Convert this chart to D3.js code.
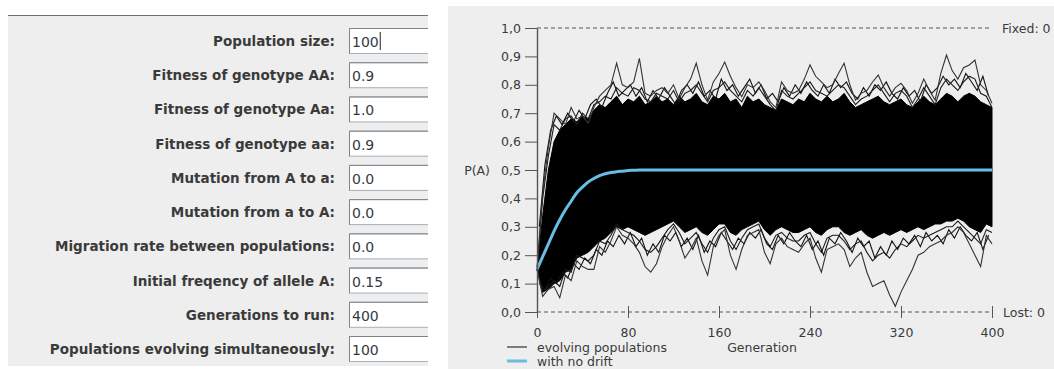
<!DOCTYPE html>
<html>
<head>
<meta charset="utf-8">
<script src="https://cdn.jsdelivr.net/npm/d3@7"></script>
<style>
  html, body { margin: 0; padding: 0; background: #ffffff; }
  svg { display: block; }
</style>
</head>
<body>
<div id="chart"></div>
<script>
// form fields on the left
const fieldLabels = [
    'Population size:',
    'Fitness of genotype AA:',
    'Fitness of genotype Aa:',
    'Fitness of genotype aa:',
    'Mutation from A to a:',
    'Mutation from a to A:',
    'Migration rate between populations:',
    'Initial freqency of allele A:',
    'Generations to run:',
    'Populations evolving simultaneously:',
];
const fieldValues = ['100', '0.9', '1.0', '0.9', '0.0', '0.0', '0.0', '0.15', '400', '100'];

// chart axes
const yTicks = [0, 0.1, 0.2, 0.3, 0.4, 0.5, 0.6, 0.7, 0.8, 0.9, 1.0];
const yTickLabels = ['0,0', '0,1', '0,2', '0,3', '0,4', '0,5', '0,6', '0,7', '0,8', '0,9', '1,0'];
const xTicks = [0, 80, 160, 240, 320, 400];
const xTickLabels = ['0', '80', '160', '240', '320', '400'];

// sampled generations (every 5th) for the 100 drifting populations
const generations = [
    0, 5, 10, 15, 20, 25, 30, 35, 40, 45, 50, 55, 60, 65, 70, 75, 80, 85, 90, 95,
    100, 105, 110, 115, 120, 125, 130, 135, 140, 145, 150, 155, 160, 165, 170, 175, 180, 185, 190, 195,
    200, 205, 210, 215, 220, 225, 230, 235, 240, 245, 250, 255, 260, 265, 270, 275, 280, 285, 290, 295,
    300, 305, 310, 315, 320, 325, 330, 335, 340, 345, 350, 355, 360, 365, 370, 375, 380, 385, 390, 395, 400,
];
// the same, shifted by two generations, for a couple of extra strands
const generationsShifted = [
    2, 7, 12, 17, 22, 27, 32, 37, 42, 47, 52, 57, 62, 67, 72, 77, 82, 87, 92, 97,
    102, 107, 112, 117, 122, 127, 132, 137, 142, 147, 152, 157, 162, 167, 172, 177, 182, 187, 192, 197,
    202, 207, 212, 217, 222, 227, 232, 237, 242, 247, 252, 257, 262, 267, 272, 277, 282, 287, 292, 297,
    302, 307, 312, 317, 322, 327, 332, 337, 342, 347, 352, 357, 362, 367, 372, 377, 382, 387, 392, 397,
];
// highest population at each generation
const outerHigh = [
    0.15, 0.42, 0.58, 0.70, 0.68, 0.66, 0.72, 0.68, 0.69, 0.665, 0.72, 0.76, 0.78, 0.80, 0.876, 0.80, 0.79, 0.81, 0.893, 0.77,
    0.76, 0.78, 0.79, 0.77, 0.80, 0.75, 0.79, 0.82, 0.876, 0.80, 0.746, 0.81, 0.84, 0.88, 0.83, 0.79, 0.758, 0.80, 0.79, 0.81,
    0.78, 0.74, 0.72, 0.81, 0.78, 0.77, 0.78, 0.82, 0.87, 0.83, 0.81, 0.79, 0.80, 0.84, 0.876, 0.80, 0.746, 0.77, 0.78, 0.81,
    0.834, 0.79, 0.76, 0.79, 0.805, 0.78, 0.735, 0.77, 0.82, 0.78, 0.746, 0.84, 0.905, 0.85, 0.82, 0.86, 0.87, 0.887, 0.80, 0.78, 0.735,
];
// strands just above the dense band
const midHigh = [
    0.15, 0.40, 0.55, 0.66, 0.64, 0.68, 0.69, 0.66, 0.70, 0.68, 0.73, 0.74, 0.76, 0.75, 0.79, 0.77, 0.76, 0.79, 0.78, 0.75,
    0.74, 0.77, 0.76, 0.75, 0.78, 0.74, 0.77, 0.78, 0.80, 0.77, 0.74, 0.78, 0.79, 0.81, 0.78, 0.76, 0.74, 0.78, 0.76, 0.79,
    0.76, 0.73, 0.71, 0.78, 0.76, 0.75, 0.77, 0.79, 0.81, 0.78, 0.77, 0.76, 0.78, 0.80, 0.79, 0.76, 0.73, 0.75, 0.76, 0.78,
    0.80, 0.77, 0.74, 0.77, 0.78, 0.76, 0.72, 0.75, 0.79, 0.76, 0.73, 0.79, 0.82, 0.80, 0.78, 0.81, 0.83, 0.82, 0.77, 0.76, 0.72,
];
const upperShifted = [
    0.30, 0.52, 0.64, 0.69, 0.66, 0.70, 0.67, 0.71, 0.68, 0.73, 0.75, 0.72, 0.77, 0.81, 0.76, 0.78, 0.80, 0.76, 0.79, 0.74,
    0.78, 0.75, 0.79, 0.76, 0.73, 0.78, 0.80, 0.77, 0.81, 0.76, 0.78, 0.75, 0.82, 0.78, 0.80, 0.76, 0.79, 0.82, 0.77, 0.80,
    0.75, 0.77, 0.74, 0.79, 0.76, 0.80, 0.77, 0.81, 0.78, 0.76, 0.80, 0.77, 0.82, 0.79, 0.81, 0.77, 0.75, 0.79, 0.76, 0.80,
    0.78, 0.81, 0.77, 0.75, 0.79, 0.76, 0.78, 0.74, 0.80, 0.77, 0.79, 0.83, 0.80, 0.82, 0.79, 0.84, 0.81, 0.78, 0.83, 0.76,
];
// top and bottom of the solid black band
const denseHigh = [
    0.15, 0.34, 0.50, 0.60, 0.64, 0.66, 0.68, 0.67, 0.69, 0.68, 0.71, 0.73, 0.72, 0.74, 0.76, 0.73, 0.75, 0.74, 0.76, 0.73,
    0.74, 0.76, 0.74, 0.75, 0.73, 0.76, 0.74, 0.75, 0.77, 0.74, 0.73, 0.76, 0.75, 0.77, 0.74, 0.75, 0.72, 0.76, 0.74, 0.75,
    0.73, 0.72, 0.71, 0.75, 0.74, 0.73, 0.75, 0.74, 0.77, 0.75, 0.74, 0.76, 0.74, 0.75, 0.77, 0.74, 0.72, 0.73, 0.74, 0.75,
    0.76, 0.74, 0.73, 0.74, 0.75, 0.73, 0.72, 0.74, 0.76, 0.74, 0.73, 0.75, 0.77, 0.76, 0.74, 0.76, 0.77, 0.76, 0.74, 0.73, 0.72,
];
const denseLow = [
    0.15, 0.07, 0.08, 0.10, 0.11, 0.14, 0.15, 0.19, 0.20, 0.21, 0.23, 0.25, 0.26, 0.28, 0.30, 0.29, 0.30, 0.29, 0.28, 0.27,
    0.28, 0.29, 0.30, 0.31, 0.32, 0.30, 0.28, 0.29, 0.30, 0.28, 0.27, 0.29, 0.31, 0.31, 0.28, 0.27, 0.29, 0.30, 0.31, 0.32,
    0.29, 0.27, 0.29, 0.30, 0.29, 0.28, 0.28, 0.29, 0.30, 0.28, 0.27, 0.29, 0.30, 0.30, 0.28, 0.27, 0.28, 0.29, 0.27, 0.26,
    0.27, 0.28, 0.27, 0.28, 0.29, 0.28, 0.29, 0.30, 0.29, 0.30, 0.31, 0.31, 0.32, 0.32, 0.33, 0.32, 0.30, 0.29, 0.28, 0.31, 0.30,
];
// strands just below the dense band
const midLow = [
    0.15, 0.07, 0.09, 0.11, 0.09, 0.15, 0.14, 0.20, 0.19, 0.18, 0.20, 0.25, 0.24, 0.27, 0.31, 0.29, 0.28, 0.27, 0.25, 0.22,
    0.21, 0.23, 0.26, 0.29, 0.31, 0.28, 0.24, 0.26, 0.28, 0.24, 0.21, 0.26, 0.29, 0.30, 0.25, 0.22, 0.26, 0.29, 0.30, 0.31,
    0.26, 0.23, 0.27, 0.28, 0.26, 0.25, 0.25, 0.27, 0.28, 0.24, 0.21, 0.26, 0.27, 0.27, 0.25, 0.22, 0.24, 0.25, 0.21, 0.18,
    0.20, 0.21, 0.19, 0.22, 0.24, 0.23, 0.25, 0.27, 0.26, 0.27, 0.28, 0.29, 0.30, 0.30, 0.32, 0.30, 0.28, 0.26, 0.24, 0.29, 0.28,
];
const lowerShifted = [
    0.10, 0.08, 0.12, 0.10, 0.14, 0.12, 0.17, 0.15, 0.19, 0.17, 0.22, 0.20, 0.25, 0.23, 0.27, 0.24, 0.28, 0.23, 0.26, 0.20,
    0.24, 0.21, 0.27, 0.25, 0.28, 0.23, 0.26, 0.22, 0.27, 0.21, 0.25, 0.23, 0.28, 0.25, 0.22, 0.26, 0.24, 0.28, 0.26, 0.29,
    0.24, 0.22, 0.27, 0.24, 0.28, 0.25, 0.23, 0.27, 0.22, 0.25, 0.20, 0.26, 0.24, 0.28, 0.25, 0.21, 0.26, 0.23, 0.25, 0.19,
    0.23, 0.20, 0.25, 0.22, 0.26, 0.24, 0.27, 0.23, 0.28, 0.25, 0.27, 0.24, 0.29, 0.26, 0.30, 0.27, 0.25, 0.28, 0.22, 0.27,
];
// lowest population at each generation
const outerLow = [
    0.15, 0.055, 0.08, 0.09, 0.05, 0.13, 0.11, 0.18, 0.16, 0.15, 0.15, 0.23, 0.21, 0.25, 0.30, 0.27, 0.26, 0.24, 0.21, 0.16,
    0.14, 0.17, 0.23, 0.27, 0.30, 0.25, 0.19, 0.22, 0.26, 0.18, 0.13, 0.23, 0.27, 0.29, 0.20, 0.15, 0.22, 0.27, 0.28, 0.29,
    0.21, 0.17, 0.24, 0.26, 0.23, 0.22, 0.21, 0.24, 0.26, 0.19, 0.14, 0.22, 0.23, 0.24, 0.22, 0.16, 0.19, 0.21, 0.14, 0.09,
    0.10, 0.11, 0.06, 0.02, 0.07, 0.11, 0.15, 0.20, 0.21, 0.23, 0.24, 0.25, 0.27, 0.28, 0.30, 0.28, 0.24, 0.20, 0.16, 0.27, 0.24,
];

// deterministic curve without drift
const noDriftGen = [0, 5, 10, 15, 20, 25, 30, 35, 40, 45, 50, 55, 60, 65, 70, 75, 80, 85, 90, 100, 400];
const noDriftP = [0.15, 0.195, 0.24, 0.285, 0.325, 0.36, 0.39, 0.42, 0.44, 0.458, 0.47, 0.48, 0.487, 0.491, 0.494, 0.496, 0.498, 0.499, 0.5, 0.5, 0.5];

const fixedCount = 0;
const lostCount = 0;

const W = 1054;
const H = 369;
const uiFont = '"DejaVu Sans", Verdana, sans-serif';
const textColour = '#3a3a3a';
const blue = '#67bde2';

const svg = d3.select('#chart')
    .append('svg')
    .attr('width', W)
    .attr('height', H)
    .style('font-family', uiFont);

// ---------- left form panel ----------
svg.append('rect')
    .attr('x', 8).attr('y', 15).attr('width', 420).attr('height', 351)
    .attr('fill', '#eeeeee');
svg.append('line')
    .attr('x1', 8).attr('x2', 428).attr('y1', 15.5).attr('y2', 15.5)
    .attr('stroke', '#6f6f6f').attr('stroke-width', 1.2);

const rowY = d3.scaleLinear().domain([0, fieldLabels.length - 1]).range([41, 349]);

const rows = svg.append('g')
    .selectAll('g')
    .data(fieldLabels)
    .join('g')
    .attr('transform', (d, i) => 'translate(0,' + rowY(i) + ')');

rows.append('text')
    .attr('x', 335)
    .attr('y', 5)
    .attr('text-anchor', 'end')
    .attr('font-weight', 'bold')
    .attr('font-size', 13.5)
    .attr('fill', textColour)
    .text((d) => d);

rows.append('rect')
    .attr('x', 349.5).attr('y', -12.5).attr('width', 90).attr('height', 25)
    .attr('fill', '#ffffff')
    .attr('stroke', '#a8b0b8');
rows.append('path')
    .attr('d', 'M349.5,12.5 V-12.5 H440')
    .attr('fill', 'none')
    .attr('stroke', '#7c858e');

const values = rows.append('text')
    .attr('x', 352)
    .attr('y', 6)
    .attr('font-size', 14)
    .attr('fill', '#333a44')
    .text((d, i) => fieldValues[i]);

// caret right after the first value
const caretX = 352 + values.node().getComputedTextLength() + 1.5;
svg.append('line')
    .attr('x1', caretX).attr('x2', caretX).attr('y1', rowY(0) - 9).attr('y2', rowY(0) + 9)
    .attr('stroke', '#222');

// white gap between the two panels
svg.append('rect')
    .attr('x', 428).attr('y', 0).attr('width', 20).attr('height', H)
    .attr('fill', '#ffffff');

// ---------- right chart panel ----------
svg.append('rect')
    .attr('x', 448).attr('y', 6).attr('width', W - 448).attr('height', H - 6)
    .attr('fill', '#eeeeee');

const x = d3.scaleLinear().domain([0, 400]).range([537, 992]);
const y = d3.scaleLinear().domain([0, 1]).range([312, 28]);

const plot = svg.append('g');

// dashed bounds at 1 and 0
plot.selectAll('line.bound')
    .data([1, 0])
    .join('line')
    .attr('class', 'bound')
    .attr('x1', x(0)).attr('x2', x(400))
    .attr('y1', (d) => y(d)).attr('y2', (d) => y(d))
    .attr('stroke', '#555')
    .attr('stroke-dasharray', '4,3');

// solid band of overlapping populations
plot.append('path')
    .datum(generations)
    .attr('fill', '#000')
    .attr('stroke', '#000')
    .attr('stroke-width', 1)
    .attr('d', d3.area()
        .x((d) => x(d))
        .y0((d, i) => y(denseLow[i]))
        .y1((d, i) => y(denseHigh[i])));

// individual strands around the band
const strand = d3.line()
    .x((d) => x(d[0]))
    .y((d) => y(d[1]));

const strands = [
    { gens: generationsShifted, values: upperShifted, colour: '#111' },
    { gens: generationsShifted, values: lowerShifted, colour: '#111' },
    { gens: generations, values: midHigh, colour: '#1a1a1a' },
    { gens: generations, values: midLow, colour: '#1a1a1a' },
    { gens: generations, values: outerHigh, colour: '#333' },
    { gens: generations, values: outerLow, colour: '#333' },
];
strands.forEach((s) => {
    plot.append('path')
        .datum(s.gens.map((g, i) => [g, s.values[i]]))
        .attr('fill', 'none')
        .attr('stroke', s.colour)
        .attr('stroke-width', 1.1)
        .attr('d', strand);
});

// no drift curve
plot.append('path')
    .datum(noDriftGen.map((g, i) => [g, noDriftP[i]]))
    .attr('fill', 'none')
    .attr('stroke', blue)
    .attr('stroke-width', 3)
    .attr('d', d3.line().curve(d3.curveMonotoneX).x((d) => x(d[0])).y((d) => y(d[1])));

// y axis
const yAxis = svg.append('g')
    .attr('transform', 'translate(' + x(0) + ',0)')
    .call(d3.axisLeft(y)
        .tickValues(yTicks)
        .tickFormat((d, i) => yTickLabels[i])
        .tickSize(12)
        .tickSizeOuter(0)
        .tickPadding(4));
yAxis.select('.domain').attr('stroke', '#555').attr('stroke-width', 1.4);
yAxis.selectAll('line').attr('stroke', '#555');
yAxis.selectAll('text')
    .attr('fill', textColour)
    .attr('font-size', 12.5)
    .attr('font-family', uiFont);

// x axis ticks cross the dashed zero line
const xAxis = svg.append('g')
    .attr('transform', 'translate(0,' + y(0) + ')')
    .call(d3.axisBottom(x)
        .tickValues(xTicks)
        .tickFormat((d, i) => xTickLabels[i])
        .tickSize(6)
        .tickPadding(10));
xAxis.select('.domain').remove();
xAxis.selectAll('line').attr('y1', -6).attr('stroke', '#555');
xAxis.selectAll('text')
    .attr('fill', textColour)
    .attr('font-size', 12.5)
    .attr('font-family', uiFont);

svg.append('text')
    .attr('x', 490).attr('y', y(0.5) + 5)
    .attr('text-anchor', 'end')
    .attr('font-size', 12.5)
    .attr('fill', textColour)
    .text('P(A)');

svg.append('text')
    .attr('x', 1002).attr('y', y(1) + 5)
    .attr('font-size', 12.5)
    .attr('fill', textColour)
    .text('Fixed: ' + fixedCount);

svg.append('text')
    .attr('x', 1003).attr('y', y(0) + 5)
    .attr('font-size', 12.5)
    .attr('fill', textColour)
    .text('Lost: ' + lostCount);

svg.append('text')
    .attr('x', 762).attr('y', 352)
    .attr('text-anchor', 'middle')
    .attr('font-size', 12.5)
    .attr('fill', textColour)
    .text('Generation');

// legend
const legend = svg.append('g');
const legendItems = [
    { label: 'evolving populations', colour: '#333', width: 1.2, y: 347 },
    { label: 'with no drift', colour: blue, width: 3, y: 361 },
];
legendItems.forEach((item) => {
    legend.append('line')
        .attr('x1', 507).attr('x2', 527)
        .attr('y1', item.y).attr('y2', item.y)
        .attr('stroke', item.colour)
        .attr('stroke-width', item.width);
    legend.append('text')
        .attr('x', 537).attr('y', item.y + 5)
        .attr('font-size', 12.5)
        .attr('fill', textColour)
        .text(item.label);
});
</script>
</body>
</html>
